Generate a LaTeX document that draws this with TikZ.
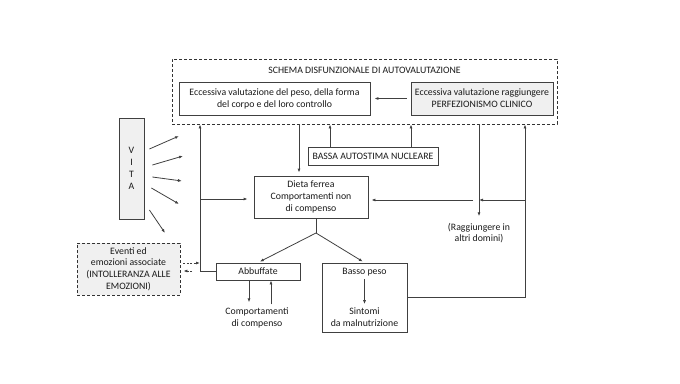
\documentclass[tikz,border=0pt]{standalone}
\usepackage{fontspec}
\setmainfont{Carlito}
\usetikzlibrary{arrows.meta,positioning,calc}

\begin{document}
\begin{tikzpicture}[x=1pt, y=-1pt,
  box/.style={draw=black!75, line width=0.8pt, inner sep=1pt},
  greybox/.style={box, fill=gray!12},
  dashbox/.style={draw=black!80, line width=0.8pt, dash pattern=on 3pt off 2pt},
  arr/.style={-{Latex[length=4pt,width=3pt]}, black!75, line width=0.8pt},
  darr/.style={arr, dash pattern=on 2pt off 1.5pt},
  conn/.style={black!75, line width=0.8pt},
  every node/.style={font=\fontsize{9.8}{11.8}\selectfont, text=black!90, align=center}
]
\useasboundingbox (0,0) rectangle (680,383);
% schema disfunzionale
\node[dashbox, minimum width=385pt, minimum height=65pt] (schema) at (364.5,91.5) {};
\node (titolo) at (364.5,70) {SCHEMA DISFUNZIONALE DI AUTOVALUTAZIONE};
\node[box, minimum width=191pt, minimum height=33pt] (peso) at (274.5,98.5)
  {Eccessiva valutazione del peso, della forma\\del corpo e del loro controllo};
\node[greybox, minimum width=142pt, minimum height=33pt] (perf) at (482,98.5)
  {Eccessiva valutazione raggiungere\\PERFEZIONISMO CLINICO};
\draw[arr, shorten <=4pt, shorten >=4pt] (perf.west) -- (peso.east);
% nodi centrali
\node[box, minimum width=130pt, minimum height=18pt] (bassa) at (373,156) {BASSA AUTOSTIMA NUCLEARE};
\node[box, minimum width=114pt, minimum height=42pt] (dieta) at (311,197)
  {Dieta ferrea\\Comportamenti non\\di compenso};
\node (ragg) at (479,233) {(Raggiungere in\\altri domini)};
\node[box, minimum width=84pt, minimum height=17pt] (abbuf) at (258,271.5) {Abbuffate};
\node (comp) at (257,318) {Comportamenti\\di compenso};
\node[box, minimum width=85pt, minimum height=69pt] (basso) at (364.5,297.5) {};
\node (bpeso) at (364.5,272) {Basso peso};
\node (sintomi) at (364.5,317) {Sintomi\\da malnutrizione};
% vita ed eventi
\node[greybox, minimum width=25pt, minimum height=101pt] (vita) at (131.5,168.5) {V\\I\\T\\A};
\node[greybox, dashbox, minimum width=103pt, minimum height=52pt] (eventi) at (128.5,269)
  {Eventi ed\\emozioni associate\\(INTOLLERANZA ALLE\\EMOZIONI)};
% punti di riferimento
\coordinate (xa) at (200,0);
\coordinate (xa2) at (192,0);
\coordinate (xb) at (299,0);
\coordinate (xc) at (330,0);
\coordinate (xd) at (411,0);
\coordinate (xe) at (479,0);
\coordinate (xe2) at (473,0);
\coordinate (xf) at (525,0);
\coordinate (xg) at (249,0);
\coordinate (xh) at (271,0);
\coordinate (ya) at (0,263);
\coordinate (yb) at (0,271);
\coordinate (yd) at (0,200);
\coordinate (incrocio) at (200,199);
\coordinate (split) at (316,233);
% frecce verso lo schema
\draw[arr] (abbuf.west) -| (schema.south -| xa);
\draw[arr, shorten >=6pt] (incrocio) -- (dieta.west |- incrocio);
\draw[arr, shorten >=3pt] (schema.south -| xb) -- (dieta.north -| xb);
\draw[arr] (bassa.north -| xc) -- (schema.south -| xc);
\draw[arr] (bassa.north -| xd) -- (schema.south -| xd);
\draw[arr, shorten >=3pt] (schema.south -| xe) -- (ragg.north);
\draw[arr] (basso.east) -| (schema.south -| xf);
\draw[arr] (xf |- yd) -- (xe |- yd);
\draw[arr, shorten >=3pt] (xe2 |- yd) -- (dieta.east |- yd);
% dieta ferrea
\draw[conn] (split |- dieta.south) -- (split);
\draw[arr, shorten >=2pt] (split) -- (abbuf.north);
\draw[arr, shorten >=2pt] (split) -- (basso.north);
\draw[arr, shorten >=2pt] (abbuf.south -| xg) -- (comp.north -| xg);
\draw[arr] (comp.north -| xh) -- (abbuf.south -| xh);
\draw[arr] (bpeso.south) -- (sintomi.north);
% eventi
\draw[darr, shorten <=3pt] (eventi.east |- ya) -- (xa |- ya);
\draw[darr, shorten >=3pt] (xa2 |- yb) -- (eventi.east |- yb);
% vita
\coordinate (v1) at (179,136);
\coordinate (v2) at (183,156);
\coordinate (v3) at (182,181);
\coordinate (v4) at (179,204);
\coordinate (v5) at (165,233);
\draw[arr] ($(vita.east)+(5,-19.5)$) -- (v1);
\draw[arr] ($(vita.east)+(8,-3.5)$) -- (v2);
\draw[arr] ($(vita.east)+(8,8.5)$) -- (v3);
\draw[arr] ($(vita.east)+(7,19.5)$) -- (v4);
\draw[arr] ($(vita.east)+(5,41.5)$) -- (v5);
\end{tikzpicture}
\end{document}
